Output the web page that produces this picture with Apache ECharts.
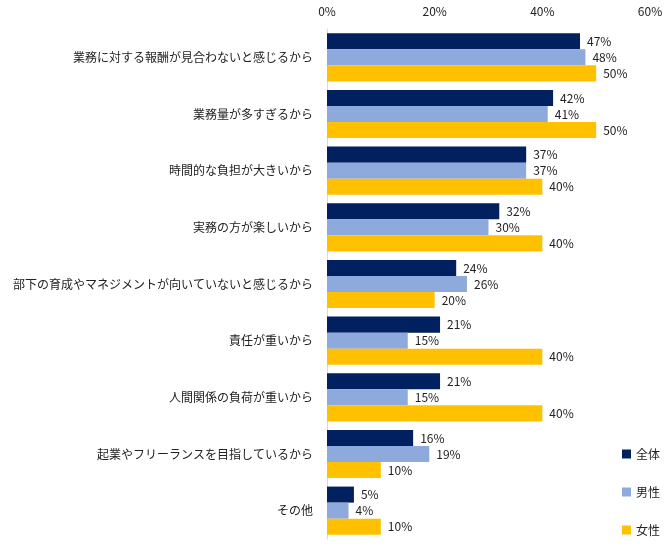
<!DOCTYPE html>
<html><head><meta charset="utf-8">
<script src="https://cdn.jsdelivr.net/npm/echarts@6/dist/echarts.min.js"></script>
<style>html,body{margin:0;padding:0;background:#fff}#c{width:671px;height:553px}</style>
</head><body><div id="c"></div>
<script>
const categories = ['業務に対する報酬が見合わないと感じるから','業務量が多すぎるから','時間的な負担が大きいから','実務の方が楽しいから','部下の育成やマネジメントが向いていないと感じるから','責任が重いから','人間関係の負荷が重いから','起業やフリーランスを目指しているから','その他'];
const seriesNames = ['全体','男性','女性'];
const allValues = [47,42,37,32,24,21,21,16,5];
const maleValues = [48,41,37,30,26,15,15,19,4];
const femaleValues = [50,50,40,40,20,40,40,10,10];
const xTicks = [0,20,40,60];
const colors = ['#002060','#8EA9DB','#FFC000'];
const font = '"Noto Sans CJK JP", sans-serif';
const chart = echarts.init(document.getElementById('c'));
const mk = (name, data, i) => ({
  name, type:'bar', data, barGap:'0%', barCategoryGap:'15%',
  itemStyle:{color:colors[i]},
  label:{show:true, position:'right', formatter:'{c}%', color:'#222', fontSize:12, fontFamily:font, distance:7},
  emphasis:{disabled:true}
});
chart.setOption({
  animation:false,
  textStyle:{fontFamily:font},
  grid:{left:327, right:21, top:29, bottom:14, containLabel:false},
  legend:{orient:'vertical', right:6, top:443, itemWidth:9, itemHeight:9, itemGap:26, icon:'rect',
    textStyle:{fontSize:12, color:'#222', fontFamily:font}, data:seriesNames},
  xAxis:{type:'value', position:'top', min:xTicks[0], max:xTicks[xTicks.length-1], interval:20,
    axisLabel:{formatter:'{value}%', color:'#222', fontSize:12, fontFamily:font, margin:12},
    axisLine:{show:false}, axisTick:{show:false}, splitLine:{show:false}},
  yAxis:{type:'category', inverse:true, data:categories,
    axisLine:{show:true, lineStyle:{color:'#d9d9d9'}}, axisTick:{show:false},
    axisLabel:{color:'#222', fontSize:12, fontFamily:font, margin:14}},
  series:[mk(seriesNames[0], allValues,0), mk(seriesNames[1], maleValues,1), mk(seriesNames[2], femaleValues,2)]
});
</script></body></html>
